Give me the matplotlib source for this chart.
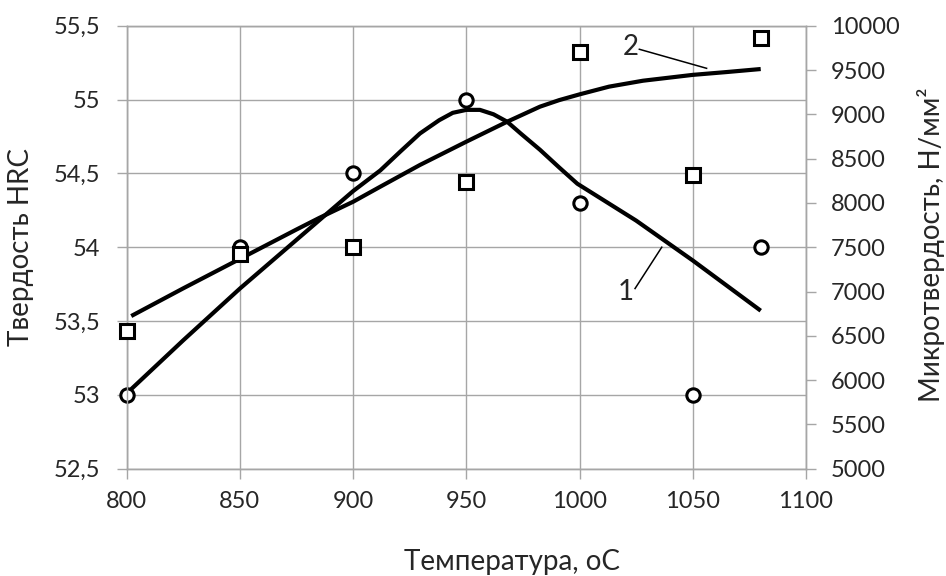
import matplotlib
matplotlib.use("Agg")
import matplotlib.pyplot as plt

# measured points
temp = [800, 850, 900, 950, 1000, 1050, 1080]
hrc = [53.0, 54.0, 54.5, 55.0, 54.3, 53.0, 54.0]
micro = [6550, 7420, 7500, 8235, 9705, 8315, 9860]

# fitted curves
fit1_t = [800, 825, 850, 875, 900, 912, 921, 929.5, 938, 944, 950, 956, 962, 968, 974,
          982.5, 991, 999, 1025, 1050, 1080]
fit1_v = [53.01, 53.37, 53.72, 54.05, 54.38, 54.52, 54.65, 54.77, 54.86, 54.91, 54.93, 54.93,
          54.90, 54.85, 54.77, 54.66, 54.54, 54.43, 54.18, 53.91, 53.57]
fit2_t = [802, 825, 850, 875, 885, 900, 912, 929.5, 950, 968, 982.5, 991, 1000, 1013, 1028,
          1050, 1065, 1080]
fit2_v = [6723, 7036, 7368, 7700, 7830, 8013, 8183, 8428, 8691, 8916, 9086, 9160, 9225, 9312,
          9379, 9445, 9477, 9511]

xticks = [800, 850, 900, 950, 1000, 1050, 1100]
hrc_ticks = [52.5, 53, 53.5, 54, 54.5, 55, 55.5]
hrc_labels = ["52,5", "53", "53,5", "54", "54,5", "55", "55,5"]
micro_ticks = list(range(5000, 10001, 500))

plt.rcParams['font.family'] = ['Lato', 'DejaVu Sans']
grey = '#a6a6a6'
txt = '#262626'

fig = plt.figure(figsize=(9.46, 5.76), dpi=100)
ax = fig.add_axes([126.7 / 946, 1 - 468.7 / 576, (806 - 126.7) / 946, (468.7 - 25.7) / 576])
ax2 = ax.twinx()

ax.set_xlim(800, 1100)
ax.set_ylim(52.5, 55.5)
ax2.set_ylim(5000, 10000)

ax.set_xticks(xticks)
ax.set_yticks(hrc_ticks)
ax.set_yticklabels(hrc_labels)
ax2.set_yticks(micro_ticks)

ax.grid(True, color=grey, lw=1.0)
ax.set_axisbelow(True)
for a in (ax, ax2):
    for s in a.spines.values():
        s.set_color(grey)
        s.set_linewidth(1.0)
ax.tick_params(axis='y', length=7, width=1.0, color=grey, pad=12, labelsize=17, labelcolor=txt)
ax.tick_params(axis='x', length=7, width=1.0, color=grey, pad=9, labelsize=17, labelcolor=txt)
ax2.tick_params(axis='y', length=7, width=1.0, color=grey, pad=11, labelsize=17, labelcolor=txt)

ax.plot(fit1_t, fit1_v, color='black', lw=3, solid_capstyle='butt',
        solid_joinstyle='round', zorder=3)
ax2.plot(fit2_t, fit2_v, color='black', lw=3, solid_capstyle='butt',
         solid_joinstyle='round', zorder=3)
ax.plot(temp, hrc, 'o', ms=9.6, mew=2.2, mfc='white', mec='black', ls='none',
        zorder=4, clip_on=False)
ax2.plot(temp, micro, 's', ms=9.6, mew=2.2, mfc='white', mec='black', ls='none',
         zorder=4, clip_on=False)

# curve labels with leader lines
ax2.text(1022.5, 9760, "2", fontsize=20, color=txt, ha='center', va='center')
ax2.plot([1026.4, 1056.1], [9734, 9519], color='black', lw=1.1)
ax.text(1020.5, 53.70, "1", fontsize=20, color=txt, ha='center', va='center')
ax.plot([1024.5, 1036.3], [53.72, 54.0], color='black', lw=1.1)

fig.text(512 / 946, 1 - 562 / 576, "Температура, оС", fontsize=20, color=txt, ha='center', va='center')
fig.text(21 / 946, 1 - 247 / 576, "Твердость HRC", fontsize=20, color=txt, rotation=90, ha='center', va='center')
fig.text(931 / 946, 1 - 245 / 576, "Микротвердость, Н/мм²", fontsize=20, color=txt, rotation=90, ha='center', va='center')

fig.savefig("out.png", dpi=100)
